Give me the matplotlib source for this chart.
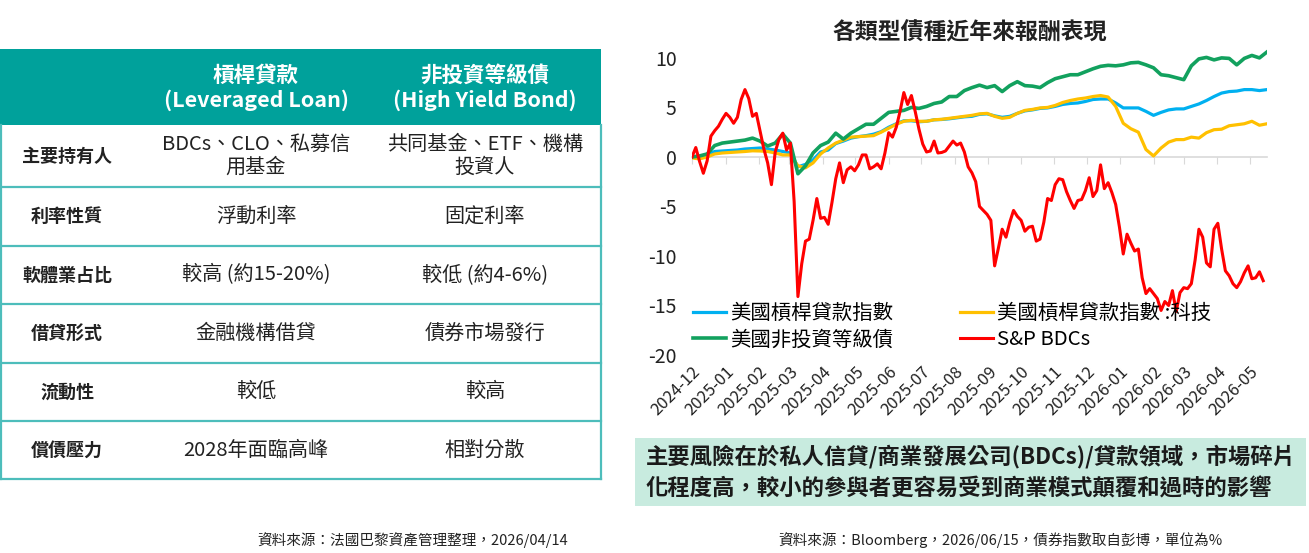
import matplotlib
matplotlib.use('Agg')
import matplotlib.pyplot as plt
import matplotlib.dates as mdates
import pandas as pd
import numpy as np

plt.rcParams['font.family'] = ['Noto Sans CJK TC', 'DejaVu Sans']

# ---- table data ----
col_heads = ['槓桿貸款\n(Leveraged Loan)', '非投資等級債\n(High Yield Bond)']
row_labels = ['主要持有人', '利率性質', '軟體業占比', '借貸形式', '流動性', '償債壓力']
loan_col = ['BDCs、CLO、私募信\n用基金', '浮動利率', '較高 (約15-20%)', '金融機構借貸', '較低', '2028年面臨高峰']
hy_col = ['共同基金、ETF、機構\n投資人', '固定利率', '較低 (約4-6%)', '債券市場發行', '較高', '相對分散']

# ---- chart data (%) ----
names = ['美國槓桿貸款指數', '美國槓桿貸款指數 :科技', '美國非投資等級債', 'S&P BDCs']

# weekly points from 2024-12-01
lev_loan = [0.0, 0.05, 0.25, 0.55, 0.6, 0.65, 0.7, 0.8, 0.85, 0.9, 0.8, 0.7, 0.55, 0.4, -1.0, -0.75,
            -0.3, 0.5, 0.7, 1.35, 1.6, 1.9, 2.05, 2.15, 2.3, 2.55,
            3.0, 3.35, 3.65, 3.65, 3.55, 3.6, 3.75, 3.78, 3.85, 3.95, 4.05, 4.1, 4.3, 4.35, 4.15,
            4.0, 4.1, 4.4, 4.65, 4.75, 4.9, 4.95, 5.1, 5.3, 5.4,
            5.45, 5.6, 5.8, 5.85, 5.85, 5.45, 4.95, 4.95, 4.95, 4.6, 4.2, 4.5, 4.75, 4.85, 4.85,
            5.1, 5.35, 5.7, 6.1, 6.45, 6.6, 6.65, 6.8, 6.8, 6.7, 6.8]
lev_tech = [-0.1, -0.2, 0.0, 0.3, 0.4, 0.45, 0.5, 0.55, 0.62, 0.6, 0.55, 0.4, 0.2, 0.2, -0.9, -1.1,
            -0.6, 0.3, 0.9, 1.4, 1.7, 2.0, 2.05, 2.1, 2.15, 2.5,
            2.9, 3.3, 3.6, 3.7, 3.6, 3.6, 3.75, 3.8, 3.9, 4.0, 4.1, 4.2, 4.35, 4.4, 4.1,
            3.9, 4.0, 4.4, 4.7, 4.8, 4.95, 5.0, 5.2, 5.5, 5.7,
            5.85, 5.95, 6.1, 6.2, 6.05, 5.1, 3.4, 2.85, 2.5, 0.75, 0.1, 0.9, 1.5, 1.75, 1.75,
            2.0, 1.9, 2.45, 2.75, 2.8, 3.15, 3.25, 3.35, 3.6, 3.2, 3.35]
high_yield = [0.0, 0.1, 0.3, 1.15, 1.4, 1.5, 1.6, 1.7, 1.9, 1.6, 1.1, 1.4, 2.3, 1.4, -1.7, -0.9,
              0.4, 1.15, 1.5, 2.4, 1.8, 2.4, 2.85, 3.3, 3.3, 3.9,
              4.5, 4.6, 4.7, 5.0, 4.9, 5.1, 5.4, 5.55, 6.1, 6.1, 6.7, 7.0, 7.25, 7.0, 7.2,
              6.6, 7.2, 7.6, 7.2, 7.15, 7.0, 7.5, 7.9, 8.1, 8.3,
              8.3, 8.6, 8.9, 9.15, 9.25, 9.2, 9.3, 9.5, 9.55, 9.3, 9.0, 8.3, 8.2, 8.0, 7.8,
              9.2, 9.9, 10.05, 9.8, 10.0, 9.95, 9.3, 9.95, 10.25, 10.0, 10.6]

# twice-weekly points from 2024-12-01
bdcs = [0.0, 0.95, -0.45, -1.65, -0.4, 2.1, 2.65, 3.1, 3.8, 4.4, 4.0, 3.4, 4.0, 5.8, 6.8, 5.9,
        4.1, 4.4, 2.6, 0.8, -0.6, -2.8, 0.5, 1.8, 2.4, 0.7, 1.4, -4.5, -14.1, -10.8, -8.5,
        -8.3, -6.4, -4.2, -6.2, -6.1, -6.8, -4.6, -2.2, -0.6, -2.6, -1.3, -1.0, -1.4, -0.8,
        0.2, 0.2, -1.2, -1.0, -0.7, -1.2,
        0.4, 2.45, 2.0, 3.0, 4.6, 6.5, 5.3, 6.2, 4.6, 2.8, 1.3, 0.5, 0.6, 1.6, 0.4, 0.45,
        0.6, 1.1, 1.6, 1.2, 1.4, 0.5, -1.0, -1.6, -2.5, -5.0, -5.4, -5.8, -6.4, -11.0, -9.2,
        -7.3, -8.1, -6.6, -5.4, -6.0, -6.4, -7.5, -7.1, -7.0, -8.5, -8.3, -6.6, -4.2, -4.4,
        -2.8, -2.2, -2.3, -3.5, -4.4, -5.2, -4.4,
        -4.3, -3.4, -2.1, -4.0, -3.4, -0.8, -3.2, -2.6, -3.6, -4.8, -7.1, -9.8, -7.8, -8.7,
        -9.5, -9.3, -12.2, -13.8, -13.3, -13.8, -14.3, -15.5, -14.6, -15.0, -13.5, -15.6,
        -13.7, -13.2, -13.3, -12.8, -10.4, -7.3, -8.1, -10.7, -11.1, -7.3, -6.7, -9.3, -11.5,
        -12.0, -12.8, -13.2, -12.6, -11.7, -11.0, -12.3, -12.2, -11.6, -12.5]

colors = ['#00b0f0', '#ffc000', '#12a15e', '#ff0000']

week_dates = pd.date_range('2024-12-01', periods=len(lev_loan), freq='7D')
bdc_dates = pd.date_range('2024-12-01', periods=len(bdcs), freq='84h')
month_ticks = pd.date_range('2024-12-01', '2026-05-01', freq='MS')

W, H = 1309, 553
fig = plt.figure(figsize=(W / 100, H / 100), dpi=100)

# ---- left table, drawn in pixel space ----
bg = fig.add_axes([0, 0, 1, 1])
bg.set_xlim(0, W)
bg.set_ylim(H, 0)
bg.axis('off')

teal = '#00a19b'
line_c = '#4dbdbb'
tbl_left, tbl_right = 0, 601
head_top, head_bot = 49, 125
row_edges = [125, 187, 245.5, 304, 362.5, 421, 479]
col_x = [67, 256, 485]

bg.add_patch(plt.Rectangle((tbl_left, head_top), tbl_right - tbl_left, head_bot - head_top,
                           facecolor=teal, edgecolor='none'))
for i, h in enumerate(col_heads):
    bg.text(col_x[i + 1], (head_top + head_bot) / 2 + 1, h, ha='center', va='center',
            color='white', fontsize=15.5, fontweight='bold', linespacing=1.25)

for y in row_edges[1:]:
    bg.plot([tbl_left, tbl_right], [y, y], color=line_c, lw=1.6)
bg.plot([tbl_left + 0.8, tbl_left + 0.8], [head_bot, row_edges[-1]], color=line_c, lw=1.6)
bg.plot([tbl_right, tbl_right], [head_bot, row_edges[-1]], color=line_c, lw=1.6)

for i in range(len(row_labels)):
    yc = (row_edges[i] + row_edges[i + 1]) / 2
    bg.text(col_x[0], yc, row_labels[i], ha='center', va='center', fontsize=13,
            fontweight='bold', color='#222222')
    bg.text(col_x[1], yc, loan_col[i], ha='center', va='center', fontsize=14.5,
            color='#222222', linespacing=1.1, fontweight='light')
    bg.text(col_x[2], yc, hy_col[i], ha='center', va='center', fontsize=14.5,
            color='#222222', linespacing=1.1, fontweight='light')

bg.text(568, 540, '資料來源：法國巴黎資產管理整理，2026/04/14', ha='right', va='center',
        fontsize=10.5, color='#222222')

# ---- note box under the chart ----
bg.add_patch(plt.Rectangle((635, 438), 671, 68, facecolor='#c8ebdf', edgecolor='none'))
bg.text(646, 456, '主要風險在於私人信貸/商業發展公司(BDCs)/貸款領域，市場碎片',
        ha='left', va='center', fontsize=16.1, fontweight='bold', color='#1a1a1a')
bg.text(646, 489, '化程度高，較小的參與者更容易受到商業模式顛覆和過時的影響',
        ha='left', va='center', fontsize=16.1, fontweight='bold', color='#1a1a1a')
bg.text(1000, 540, '資料來源：Bloomberg，2026/06/15，債券指數取自彭博，單位為%', ha='center',
        va='center', fontsize=10.5, color='#222222')

# ---- line chart ----
x0, x1 = 692, 1267
y_top, y_bot = 48, 355
ax = fig.add_axes([x0 / W, 1 - y_bot / H, (x1 - x0) / W, (y_bot - y_top) / H])
ax.patch.set_alpha(0)

wx = mdates.date2num(week_dates)
bx = mdates.date2num(bdc_dates)
tx = mdates.date2num(month_ticks)

l_loan, = ax.plot(wx, lev_loan, color=colors[0], lw=2.3, label=names[0])
l_tech, = ax.plot(wx, lev_tech, color=colors[1], lw=2.3, label=names[1])
l_hy, = ax.plot(wx, high_yield, color=colors[2], lw=2.6, label=names[2])
l_bdc, = ax.plot(bx, bdcs, color=colors[3], lw=2.2, label=names[3])

ax.set_xlim(wx[0], wx[-1])
ax.set_ylim(-20, 11)
ax.set_yticks([10, 5, 0, -5, -10, -15, -20])
ax.set_yticklabels(['10', '5', '0', '-5', '-10', '-15', '-20'])
ax.tick_params(axis='y', length=0, labelsize=14, pad=11, labelcolor='#222222')
for s in ['left', 'right', 'top']:
    ax.spines[s].set_visible(False)
ax.spines['bottom'].set_position(('data', 0))
ax.spines['bottom'].set_color('#d9d9d9')
ax.spines['bottom'].set_linewidth(1.2)
ax.spines['bottom'].set_zorder(0)
ax.set_xticks(tx)
ax.tick_params(axis='x', direction='out', length=5, color='#d9d9d9', labelbottom=False)

sec = ax.secondary_xaxis('bottom')
sec.set_xticks(tx)
sec.set_xticklabels([d.strftime('%Y-%m') for d in month_ticks], rotation=45, ha='right',
                    rotation_mode='anchor', fontsize=12, color='#222222')
sec.tick_params(length=0, pad=6)
sec.spines['bottom'].set_visible(False)

ax.text(0.483, 1.012, '各類型債種近年來報酬表現', transform=ax.transAxes, ha='center',
        va='bottom', fontsize=16.5, fontweight='bold', color='#222222')

ax.legend([l_loan, l_hy, l_tech, l_bdc], [names[0], names[2], names[1], names[3]],
          loc='upper left', bbox_to_anchor=(-0.012, 0.195), ncol=2, frameon=False,
          fontsize=14.7, handlelength=1.6, handletextpad=0.2, columnspacing=3.3,
          labelspacing=0.25, borderaxespad=0)

fig.savefig('out.png', dpi=100)
